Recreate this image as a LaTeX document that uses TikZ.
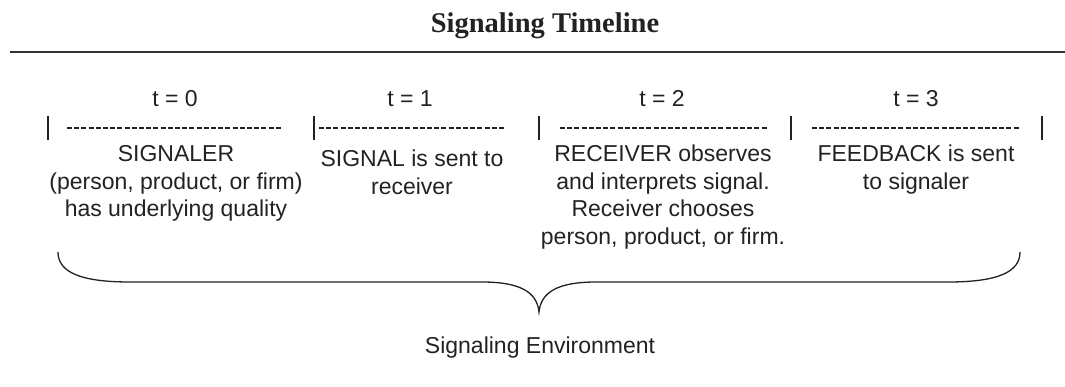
\documentclass[tikz,border=0pt]{standalone}
\usepackage{fontspec}
\setmainfont{Liberation Sans}
\newfontfamily\titlefont{Liberation Serif}
\definecolor{ink}{HTML}{222222}
\definecolor{rule}{HTML}{333333}
\begin{document}
\begin{tikzpicture}[x=1pt,y=-1pt,
  bodytext/.style={inner sep=0pt,anchor=base,align=center,text=ink,
    font=\fontsize{23}{27.5}\selectfont},
  titletext/.style={inner sep=0pt,anchor=base,text=ink,
    font=\titlefont\bfseries\fontsize{28.5}{30}\selectfont},
  sepbar/.style={draw=ink,line width=1.8pt},
  dashrule/.style={draw=ink,line width=1.4pt,dash pattern=on 5pt off 2.2pt},
  bracepath/.style={draw=ink,line width=1.3pt}]
\useasboundingbox (0,0) rectangle (1065,387);
% title and rule
\node[titletext] (title) at (545,33) {Signaling Timeline};
\coordinate (ruleL) at (10,52);
\coordinate (ruleR) at (1065,52);
\draw[draw=rule,line width=1.6pt] (ruleL) -- (ruleR);
% time labels
\node[bodytext] (t0) at (175,107) {t = 0};
\node[bodytext] (t1) at (410,107) {t = 1};
\node[bodytext] (t2) at (662,107) {t = 2};
\node[bodytext] (t3) at (916,107) {t = 3};
% separator bars
\foreach \i/\x in {0/48,1/314,2/539,3/791,4/1042}{
  \coordinate (bt\i) at (\x,116);
  \coordinate (bb\i) at (\x,140);
  \draw[sepbar] (bt\i) -- (bb\i);
}
% dashed rules
\foreach \i/\a/\b in {0/67/282,1/319/504,2/560/767,3/812/1020}{
  \coordinate (da\i) at (\a,128);
  \coordinate (db\i) at (\b,128);
  \draw[dashrule] (da\i) -- (db\i);
}
% descriptions (anchor base = baseline of last line)
\node[bodytext] (d0) at (176,217) {SIGNALER\\(person, product, or firm)\\has underlying quality};
\node[bodytext] (d1) at (412,194.5) {SIGNAL is sent to\\receiver};
\node[bodytext] (d2) at (663,244.5) {RECEIVER observes\\and interprets signal.\\Receiver chooses\\person, product, or firm.};
\node[bodytext] (d3) at (916,189.5) {FEEDBACK is sent\\to signaler};
% brace
\coordinate (brL) at (58,252);
\coordinate (brTip) at (539,312);
\coordinate (brR) at (1020,252);
\draw[bracepath] (brL) .. controls (58,272) and (80,282) .. (130,282) -- (482,282)
  .. controls (520,282) and (537,292) .. (brTip)
  .. controls (541,292) and (558,282) .. (596,282) -- (948,282)
  .. controls (998,282) and (1020,272) .. (brR);
\node[bodytext] (env) at (540,353) {Signaling Environment};
\end{tikzpicture}
\end{document}
